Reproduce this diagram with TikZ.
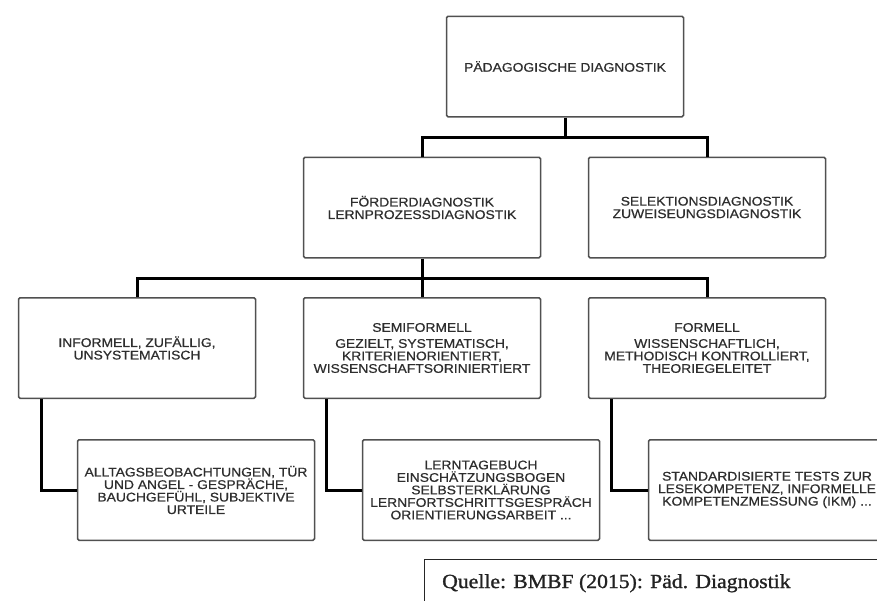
\documentclass[tikz,border=0pt]{standalone}
\usepackage{fontspec}
\setmainfont{Liberation Sans}
\newfontfamily\boxfont[FakeStretch=1.1,FakeBold=0.6]{Liberation Sans}
\newfontfamily\srcfont[FakeStretch=1.085,FakeBold=1.2]{Liberation Serif}
\definecolor{boxline}{HTML}{505050}
\definecolor{txt}{HTML}{2E2E2E}
\definecolor{srctxt}{HTML}{222222}
\begin{document}
\begin{tikzpicture}[x=1pt,y=-1pt,
  box/.style={draw=boxline, line width=1.5pt, rounded corners=1.5pt, fill=white,
    minimum width=237pt, minimum height=100.5pt, align=center, text=txt,
    font=\boxfont\fontsize{12.6}{12.5}\selectfont, inner sep=2pt},
  conn/.style={draw=black, line width=3pt}]
\useasboundingbox (0,0) rectangle (877,600);
\clip (0,0) rectangle (877,600);
\fill[white] (0,0) rectangle (877,600);

\node[box] (pd) at (565,66.5) {PÄDAGOGISCHE DIAGNOSTIK};
\node[box] (fd) at (422,207.5) {FÖRDERDIAGNOSTIK\\LERNPROZESSDIAGNOSTIK};
\node[box] (sd) at (707,207.5) {SELEKTIONSDIAGNOSTIK\\ZUWEISEUNGSDIAGNOSTIK};
\node[box] (inf) at (137,348) {INFORMELL, ZUFÄLLIG,\\UNSYSTEMATISCH};
\node[box] (semi) at (422,348) {SEMIFORMELL\\[3.5pt]GEZIELT, SYSTEMATISCH,\\KRITERIENORIENTIERT,\\WISSENSCHAFTSORINIERTIERT};
\node[box] (form) at (707,348) {FORMELL\\[3.5pt]WISSENSCHAFTLICH,\\METHODISCH KONTROLLIERT,\\THEORIEGELEITET};
\node[box] (alltag) at (196,490) {ALLTAGSBEOBACHTUNGEN, TÜR\\UND ANGEL - GESPRÄCHE,\\BAUCHGEFÜHL, SUBJEKTIVE\\URTEILE};
\node[box] (lern) at (481,490) {LERNTAGEBUCH\\EINSCHÄTZUNGSBOGEN\\SELBSTERKLÄRUNG\\LERNFORTSCHRITTSGESPRÄCH\\ORIENTIERUNGSARBEIT ...};
\node[box] (std) at (767,490) {STANDARDISIERTE TESTS ZUR\\LESEKOMPETENZ, INFORMELLE\\KOMPETENZMESSUNG (IKM) ...};

\draw[conn] (pd.south) -- ++(0,20) coordinate (j1) -| (fd.north);
\draw[conn] (j1) -| (sd.north);
\draw[conn] (fd.south) -- ++(0,20) coordinate (j2) -| (inf.north);
\draw[conn] (j2) -- (semi.north);
\draw[conn] (j2) -| (form.north);

\draw[conn] ([xshift=24pt]inf.south west) |- (alltag.west);
\draw[conn] ([xshift=24pt]semi.south west) |- (lern.west);
\draw[conn] ([xshift=24pt]form.south west) |- (std.west);

\node[draw=black!85, line width=1.3pt, anchor=north west, minimum width=520pt,
  minimum height=80pt, inner sep=0pt] (srcbox) at (424,559) {};
\node[anchor=base west, inner sep=0pt, text=srctxt,
  font=\srcfont\fontsize{20}{24}\selectfont] (src) at (442,588) {Quelle: BMBF (2015): Päd. Diagnostik};
\end{tikzpicture}
\end{document}
